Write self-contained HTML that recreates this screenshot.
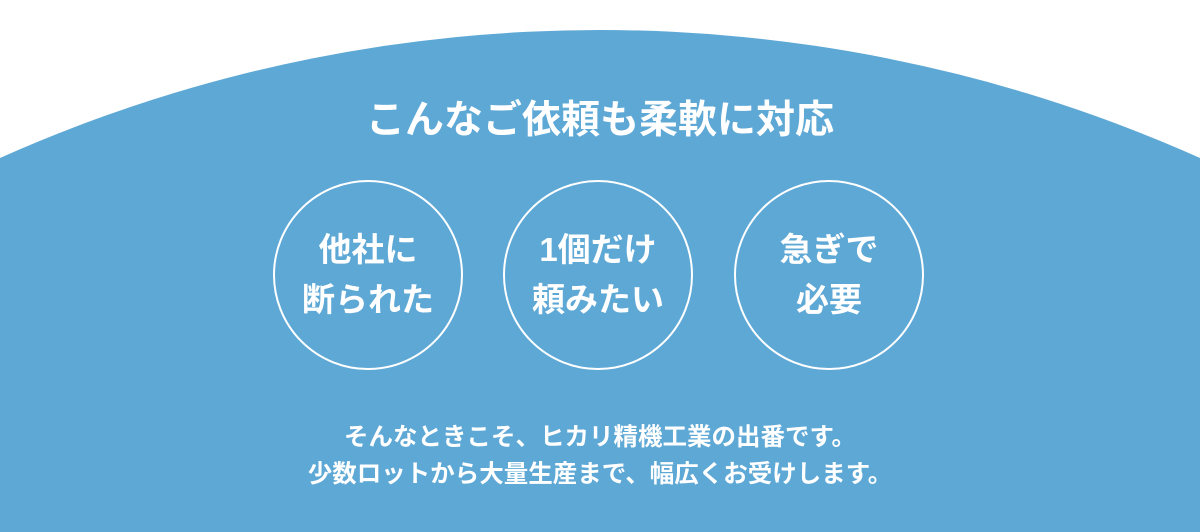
<!DOCTYPE html>
<html><head><meta charset="utf-8"><style>
html,body{margin:0;padding:0;width:1200px;height:532px;overflow:hidden}
body{background:#fff;position:relative;font-family:"Liberation Sans","Noto Sans CJK JP",sans-serif;color:#fff}
svg.bg{position:absolute;left:0;top:0}
.t{position:absolute;left:0;width:1200px;text-align:center;font-weight:bold}
.c{position:absolute;width:190px;height:190px;border:2.5px solid #fff;border-radius:50%;box-sizing:border-box;display:flex;align-items:center;justify-content:center;text-align:center;font-weight:bold;font-size:33px;line-height:50px;top:180px}
</style></head><body>
<svg class="bg" width="1200" height="532" viewBox="0 0 1200 532"><circle cx="600" cy="1500" r="1470" fill="#5ea8d6"/></svg>
<div class="t" style="top:96px;font-size:39px;line-height:50px">こんなご依頼も柔軟に対応</div>
<div class="c" style="left:273px">他社に<br>断られた</div>
<div class="c" style="left:503px">1個だけ<br>頼みたい</div>
<div class="c" style="left:734px">急ぎで<br>必要</div>
<div class="t" style="top:419px;font-size:24.5px;line-height:37px">そんなときこそ、ヒカリ精機工業の出番です。<br>少数ロットから大量生産まで、幅広くお受けします。</div>
</body></html>
